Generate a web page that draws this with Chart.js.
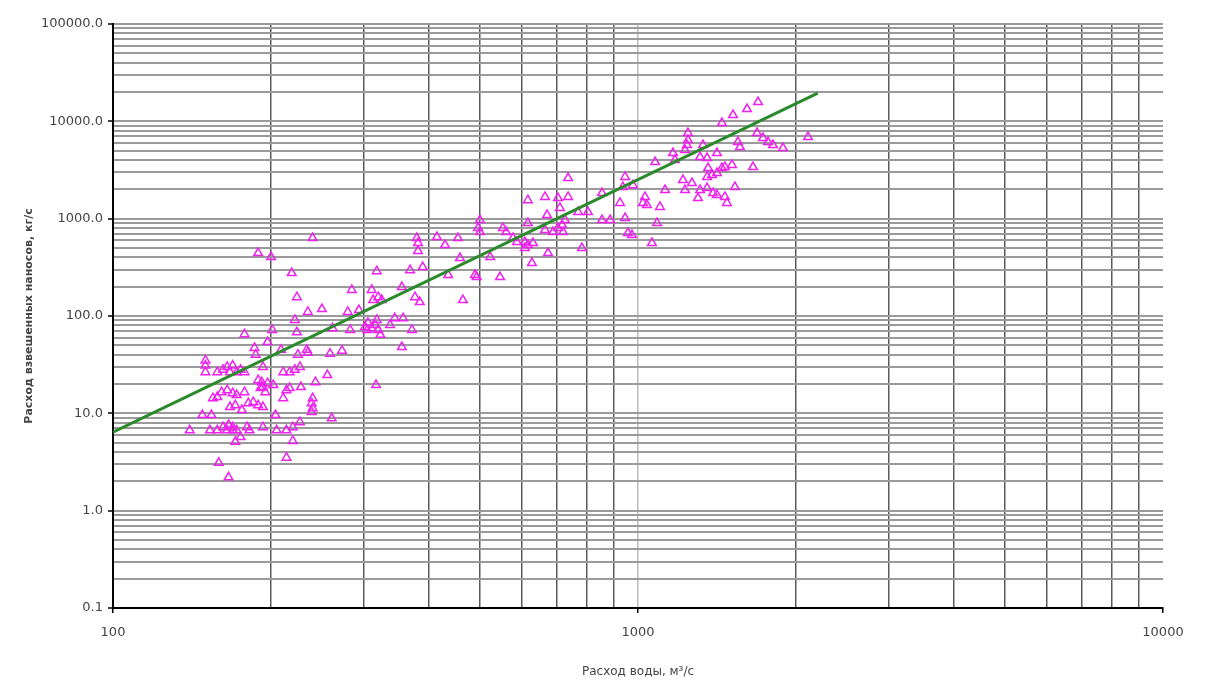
<!DOCTYPE html>
<html>
<head>
<meta charset="utf-8">
<script src="https://cdn.jsdelivr.net/npm/chart.js@4.4.1/dist/chart.umd.min.js"></script>
<style>
  html, body { margin: 0; padding: 0; background: #ffffff; }
  #wrap { width: 1215px; height: 688px; }
</style>
</head>
<body>
<div id="wrap"><canvas id="c" width="1215" height="688"></canvas></div>
<script>
// Water discharge, m3/s (x) and suspended sediment discharge, kg/s (y)
const waterDischarge = [
  189,200,219,224,222,
  178,201,224,186,187,197,209,150,150,150,158,162,165,167,169,172,175,178,193,211,217,222,189,192,193,197,191,195,202,214,217,211,161,165,169,172,178,155,158,167,171,176,181,185,189,193,148,154,140,153,158,162,166,169,165,169,172,175,180,182,193,204,205,214,220,220,171,159,166,214,
  240,379,381,381,318,368,389,285,311,313,320,325,355,376,384,235,250,280,294,262,283,302,306,311,316,320,305,323,318,337,344,357,371,355,225,234,235,259,273,227,256,243,228,317,240,239,240,239,261,227,
  414,429,454,458,435,464,489,493,500,496,500,523,546,553,561,578,588,617,617,609,617,631,609,628,665,671,665,689,704,717,720,674,704,736,710,736,726,769,803,782,854,854,885,
  1693,1613,1517,1445,1245,1245,1240,1330,1686,1730,1769,1808,1889,1550,1564,2108,1656,1166,1176,1229,1313,1354,1414,1078,1360,1384,1414,1354,1445,1464,1510,945,936,978,924,1218,1267,1229,1126,1313,1354,1390,1414,1301,1464,1477,1530,1031,1022,1040,1101,945,1087,957,974,1063
];
const sedimentDischarge = [
  443,403,276,156,91,
  65,72,68,47,40,54,45,35,31,26.5,26.5,28,30,26.5,31,26.5,28,26.5,30,26.5,26.5,28,21.9,20.9,18.6,20.4,18.2,16.5,19.5,17.3,18.2,14.3,16.5,17.3,16.1,15.4,16.5,14.3,14.7,11.6,12.1,10.8,12.7,13.0,12.1,11.6,9.6,9.6,6.7,6.7,6.7,7.2,7.6,7.2,6.7,6.7,6.7,5.7,7.2,6.7,7.2,9.6,6.7,6.7,7.2,5.2,5.1,3.1,2.2,3.5,
  632,632,561,465,289,296,318,185,185,146,156,146,198,156,139,110,118,110,115,75,72,77,85,75,81,72,72,64,91,81,95,95,72,48,40,45,42,41,44,30,24.7,20.9,18.6,19.5,14.3,12.7,11.3,10.3,8.9,8.1,
  647,535,632,394,263,146,263,251,967,801,729,403,251,801,729,632,575,1550,901,575,535,561,499,350,1670,1090,764,729,801,860,729,443,1630,1670,1290,2610,967,1170,1170,499,1830,967,967,
  15790,13380,11600,9600,7580,6420,5710,5710,7580,6740,6130,5710,5320,6130,5440,6900,3390,4720,4000,5070,4300,4200,4720,3820,3310,2810,2940,2680,3310,3390,3560,2680,2110,2210,1450,2490,2320,1970,1970,1970,2060,1830,1750,1630,1670,1450,2110,1670,1450,1380,1320,1015,901,711,678,561
];
// Trend line (power law) end points
const trendX = [100, 2200];
const trendY = [6.4, 19500];

// Axis ticks
const xTicks = [100,200,300,400,500,600,700,800,900,1000,2000,3000,4000,5000,6000,7000,8000,9000,10000];
const xMajorTicks = [100,1000,10000];
const xTickLabels = ['100','1000','10000'];
const yTicks = [0.1,0.2,0.3,0.4,0.5,0.6,0.7,0.8,0.9,1,2,3,4,5,6,7,8,9,10,20,30,40,50,60,70,80,90,
  100,200,300,400,500,600,700,800,900,1000,2000,3000,4000,5000,6000,7000,8000,9000,
  10000,20000,30000,40000,50000,60000,70000,80000,90000,100000];
const yMajorTicks = [0.1,1,10,100,1000,10000,100000];
const yTickLabels = ['0.1','1.0','10.0','100.0','1000.0','10000.0','100000.0'];

const xTitle = 'Расход воды, м³/с';
const yTitle = 'Расход взвешенных наносов, кг/с';

const points = waterDischarge.map((x, i) => ({x: x, y: sedimentDischarge[i]}));
const trend = trendX.map((x, i) => ({x: x, y: trendY[i]}));

const FONT = "'DejaVu Sans', sans-serif";

new Chart(document.getElementById('c'), {
  data: {
    datasets: [
      {
        type: 'line',
        data: trend,
        borderColor: '#2b8a2b',
        borderWidth: 3,
        pointRadius: 0,
        fill: false,
        tension: 0
      },
      {
        type: 'scatter',
        data: points,
        pointStyle: 'triangle',
        pointRadius: 5,
        borderColor: '#ee22ee',
        backgroundColor: 'rgba(255,255,255,0)',
        borderWidth: 1.5
      }
    ]
  },
  options: {
    responsive: false,
    animation: false,
    events: [],
    layout: { padding: { left: 0, top: 24, right: 52, bottom: 0 } },
    plugins: { legend: { display: false }, tooltip: { enabled: false } },
    scales: {
      x: {
        type: 'logarithmic',
        position: 'bottom',
        min: 100,
        max: 10000,
        afterBuildTicks: (s) => { s.ticks = xTicks.map(v => ({value: v})); },
        afterFit: (s) => { s.height = 80; },
        border: { display: true, color: '#000', width: 2 },
        grid: {
          drawTicks: true,
          tickLength: 5,
          color: (c) => {
            const v = c.tick && c.tick.value;
            if (v === 100 || v === 10000) return 'rgba(0,0,0,0)';
            if (v === 1000) return '#bdbdbd';
            return '#5a5a5a';
          },
          lineWidth: 1.5,
          tickColor: (c) => xMajorTicks.includes(c.tick && c.tick.value) ? '#000' : 'rgba(0,0,0,0)',
          tickWidth: 1.5
        },
        ticks: {
          autoSkip: false,
          maxRotation: 0,
          padding: 12,
          color: '#444',
          font: { family: FONT, size: 13 },
          callback: (v) => { const i = xMajorTicks.indexOf(v); return i >= 0 ? xTickLabels[i] : ''; }
        },
        title: {
          display: true,
          text: xTitle,
          color: '#444',
          font: { family: FONT, size: 12 },
          padding: { top: 0, bottom: 9 }
        }
      },
      y: {
        type: 'logarithmic',
        position: 'left',
        min: 0.1,
        max: 100000,
        afterBuildTicks: (s) => { s.ticks = yTicks.map(v => ({value: v})); },
        afterFit: (s) => { s.width = 113; },
        border: { display: true, color: '#000', width: 2 },
        grid: {
          drawTicks: true,
          tickLength: 5,
          color: '#9a9a9a',
          lineWidth: 2,
          tickColor: (c) => yMajorTicks.includes(c.tick && c.tick.value) ? '#000' : 'rgba(0,0,0,0)',
          tickWidth: 1.5
        },
        ticks: {
          autoSkip: false,
          padding: 5,
          color: '#444',
          font: { family: FONT, size: 13 },
          callback: (v) => { const i = yMajorTicks.indexOf(v); return i >= 0 ? yTickLabels[i] : ''; }
        },
        title: {
          display: true,
          text: yTitle,
          color: '#444',
          font: { family: FONT, size: 11, weight: 'bold' },
          padding: { top: 23, bottom: 0 }
        }
      }
    }
  }
});
</script>
</body>
</html>
